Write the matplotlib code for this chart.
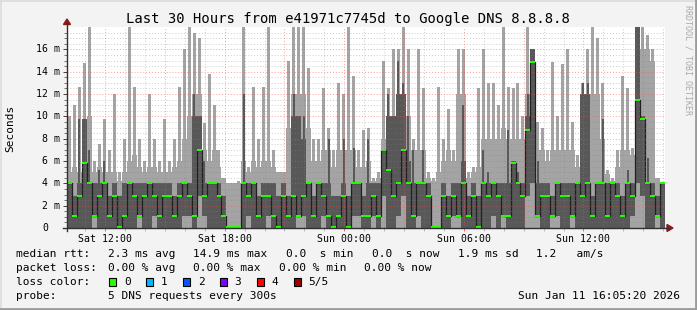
import numpy as np
import matplotlib
matplotlib.use("Agg")
import matplotlib.pyplot as plt
import matplotlib.dates as mdates
import pandas as pd
from matplotlib.patches import Rectangle, Polygon
from matplotlib.lines import Line2D
import matplotlib.transforms as mtrans

# ---------------- data (ms), 15-minute steps, Sat 10:05:20 -> Sun 16:05:20 ----------------
start_time = "2026-01-10 10:05:20"
step_minutes = 15

# highest ping within the step (short spikes)
ping_max = [10, 11, 12.6, 14.8, 18, 6, 7.5, 9.8, 7, 12,
            5, 8, 18, 12.6, 8, 6, 12, 8, 6, 9.8,
            6, 8, 12.6, 16, 18, 17.5, 17, 9.4, 13.8, 11,
            7, 4.5, 4, 4, 4.2, 18, 5.5, 12.6, 8, 12.6,
            18, 7, 5, 5, 15, 18, 18, 18, 14.3, 8,
            8, 12.5, 9, 7, 13, 12, 18, 13.6, 7, 8.8,
            9, 4.5, 5, 15, 12.5, 16, 16, 18, 16, 8,
            16, 12.5, 5, 4.5, 12.6, 8, 10.7, 7, 16, 16,
            5, 5.5, 12.5, 16, 13, 13, 11, 18, 12.6, 12.5,
            13, 10, 18, 16, 9.5, 9, 7, 14.9, 10, 14.7,
            16, 9.5, 6.5, 13, 16, 18, 17, 13, 5.2, 4.5,
            7, 13.6, 12.5, 7.2, 18, 18, 17.3, 16, 4.5, 4]

# highest ping, level held over the whole step
ping_max_base = [5, 5.5, 5, 9, 10, 5, 5.5, 5, 5, 5,
                 4.2, 5, 6, 6.5, 5.5, 5, 5.5, 5.5, 5, 5,
                 5, 5.5, 6, 8, 10, 12, 12, 7, 6, 7,
                 5.5, 4.5, 4, 4, 4, 6, 5, 6, 5.5, 6,
                 6, 5.5, 5, 5, 9, 12, 12, 12, 9, 6,
                 6, 7, 7, 5.5, 7, 7, 7, 7, 5.5, 5.5,
                 6, 4.2, 4.5, 8, 10, 10, 12, 12, 10, 7,
                 7, 7, 4.5, 4.2, 5, 6, 7, 6, 12, 12,
                 4.5, 5, 5.5, 8, 8, 8, 8, 9, 8, 8,
                 8, 8, 12, 13, 7, 7, 6, 7, 7, 7,
                 7, 7, 5.5, 10, 10, 12, 12, 8, 4.8, 4.2,
                 5.5, 7, 7, 6.5, 14, 16, 16, 15, 4.5, 4]

# 4th of 5 pings (short spikes)
ping_hi = [4, 2.9, 9.8, 9.8, 7, 4, 5.2, 6, 2.9, 4,
           2.9, 4, 4, 4, 4, 4, 4, 4, 4, 4,
           4, 2.9, 4, 4, 4, 12, 10, 6, 4, 4,
           4, 2.9, 0.1, 0.1, 0.1, 12, 4, 4, 2.9, 4,
           4, 4, 2.9, 4, 2.9, 12, 10, 10, 4, 2.9,
           4, 4, 8, 2.9, 2.9, 8, 2.9, 7.2, 4, 2.9,
           8, 4, 4, 7, 12, 10, 15, 13, 10, 7,
           4, 7, 4, 0.1, 0.1, 4, 2.9, 4, 4, 11,
           2.9, 4, 2.9, 7, 5, 4, 4, 4, 8.8, 6,
           5, 4, 12, 16, 6, 4, 4, 2.9, 4, 4,
           4, 4, 4, 13, 13, 2.9, 4, 9.8, 4, 4,
           4, 2.9, 5.2, 4, 18, 10, 6.3, 4, 2.9, 4]

# 4th of 5 pings, level held over the whole step
ping_hi_base = [4, 2.9, 4, 9.8, 4, 4, 4, 4, 2.9, 4,
                2.9, 4, 4, 4, 4, 4, 4, 4, 4, 4,
                4, 2.9, 4, 4, 4, 10, 10, 4, 4, 4,
                4, 2.9, 0.1, 0.1, 0.1, 4, 4, 4, 2.9, 4,
                4, 4, 2.9, 4, 2.9, 10, 10, 8, 4, 2.9,
                4, 4, 4, 2.9, 2.9, 4, 2.9, 4, 4, 2.9,
                4, 4, 4, 7, 10, 10, 12, 12, 6, 4,
                4, 4, 4, 0.1, 0.1, 4, 2.9, 4, 4, 6,
                2.9, 4, 2.9, 4, 4, 4, 4, 4, 4, 6,
                4, 4, 10, 16, 4, 4, 4, 2.9, 4, 4,
                4, 4, 4, 12, 12, 2.9, 4, 4, 4, 4,
                4, 2.9, 4, 4, 18, 10, 4, 4, 2.9, 4]

median_rtt = [4.0, 1.1, 2.9, 5.8, 4.0, 1.1, 2.9, 4.0, 1.1, 2.9,
              0.1, 1.1, 4.0, 2.9, 1.1, 2.9, 4.0, 2.9, 1.1, 2.9,
              2.9, 1.1, 2.9, 4.0, 2.9, 1.1, 7.0, 2.9, 4.0, 4.0,
              2.9, 1.1, 0.1, 0.1, 0.1, 4.0, 2.9, 4.0, 1.1, 2.9,
              2.9, 1.1, 0.1, 2.9, 1.1, 2.9, 1.1, 2.9, 4.0, 1.1,
              4.0, 2.9, 1.1, 0.1, 1.1, 2.9, 0.1, 4.0, 4.0, 1.1,
              1.1, 2.9, 1.1, 7.0, 5.2, 2.9, 4.0, 7.0, 4.0, 1.1,
              4.0, 4.0, 2.9, 0.1, 0.1, 2.9, 1.1, 2.9, 1.1, 4.0,
              1.1, 2.9, 0.1, 4.0, 2.9, 4.0, 2.9, 1.1, 1.1, 5.8,
              4.0, 2.9, 8.8, 14.9, 1.1, 2.9, 2.9, 1.1, 4.0, 2.9,
              2.9, 1.1, 4.0, 2.9, 4.0, 1.1, 4.0, 4.0, 1.1, 4.0,
              2.9, 1.1, 4.0, 2.9, 11.5, 9.8, 4.0, 2.9, 1.1, 4.0]

# 2nd of 5 pings
ping_lo = [0, 0, 0, 0, 0, 1.1, 0, 0, 0, 0,
           0, 0, 0, 0, 1.1, 0, 0, 1.1, 0, 0,
           0, 0, 0, 1.1, 1.1, 0, 2.9, 1.1, 0, 0,
           0, 0, 0, 0, 0, 0, 1.1, 0, 0, 0,
           1.1, 0, 0, 0, 0, 0, 1.1, 1.1, 0, 0,
           0, 1.1, 0, 0, 0, 0, 0, 1.1, 1.1, 0,
           0, 1.1, 0, 2.9, 0, 0, 1.1, 2.9, 0, 0,
           1.1, 0, 0, 0, 0, 0, 0, 1.1, 1.1, 0,
           0, 0, 0, 0, 0, 1.1, 0, 1.1, 0, 0,
           0, 0, 2.9, 4.0, 1.1, 0, 0, 1.1, 1.1, 0,
           0, 1.1, 0, 0, 0, 0, 0, 0, 0, 0,
           0, 0, 0, 1.1, 4.0, 2.9, 0, 0, 1.1, 0]

ping_min = 0.0

title = "Last 30 Hours from e41971c7745d to Google DNS 8.8.8.8"
y_ticks = [0, 2, 4, 6, 8, 10, 12, 14, 16]
x_tick_times = ["2026-01-10 12:00", "2026-01-10 18:00", "2026-01-11 00:00",
                "2026-01-11 06:00", "2026-01-11 12:00"]
x_tick_labels = ["Sat 12:00", "Sat 18:00", "Sun 00:00", "Sun 06:00", "Sun 12:00"]

legend_rtt = [("median rtt:", 16), ("2.3 ms avg", 108), ("14.9 ms max", 193),
              ("0.0  s min", 286.5), ("0.0  s now", 372), ("1.9 ms sd", 458),
              ("1.2   am/s", 535.5)]
legend_loss = [("packet loss:", 16), ("0.00 % avg", 108), ("0.00 % max", 193),
               ("0.00 % min", 279), ("0.00 % now", 364)]
loss_labels = ["0", "1", "2", "3", "4", "5/5"]
loss_colors = ["#26ff00", "#00b8ff", "#0059ff", "#7e00ff", "#ff0000", "#a00000"]
probe_text = "5 DNS requests every 300s"
stamp_text = "Sun Jan 11 16:05:20 2026"

# ---------------- figure ----------------
W, H = 697, 310
FONT = "DejaVu Sans Mono"
plt.rcParams["font.family"] = FONT
fig = plt.figure(figsize=(W / 100, H / 100), dpi=100)
fig.patch.set_facecolor("#f3f3f3")

def fx(x):
    return x / W

def fy(y):
    return 1 - y / H

L, R, T, B = 67, 665, 27, 228
ax = fig.add_axes([fx(L), fy(B), (R - L) / W, (B - T) / H])
ax.set_facecolor("white")
for s in ax.spines.values():
    s.set_visible(False)

n = len(median_rtt)
edges = pd.date_range(start=start_time, periods=n + 1, freq=f"{step_minutes}min")
xe = mdates.date2num(edges.to_pydatetime())
xc = (xe[:-1] + xe[1:]) / 2
step_w = xe[1] - xe[0]

def ext(a):
    a = np.asarray(a, dtype=float)
    return np.append(a, a[-1])

LIGHT, DARK = "#a4a4a4", "#585858"
ax.fill_between(xe, ping_min, ext(ping_max_base), step="post", color=LIGHT, lw=0, zorder=2)
ax.bar(xc, ping_max, width=step_w * 0.6, bottom=ping_min, color=LIGHT, lw=0, zorder=2)
lo = np.asarray(ping_lo, dtype=float)
ax.fill_between(xe, ext(lo), ext(ping_hi_base), step="post", color=DARK, lw=0, zorder=3)
ax.bar(xc, np.asarray(ping_hi) - lo, width=step_w * 0.4, bottom=lo, color=DARK, lw=0, zorder=3)
med = ext(median_rtt)
ax.step(xe, med, where="post", color="#202020", lw=0.9, zorder=4)
ax.fill_between(xe, med - 0.09, med + 0.09, step="post", color=loss_colors[0], lw=0, zorder=5)

ax.set_xlim(xe[0], xe[-1])
ax.set_ylim(0, 18)

# grid (drawn over data like rrdtool)
t0 = pd.Timestamp(start_time).ceil("h")
hours = pd.date_range(t0, edges[-1], freq="1h")
MAJ = (1, 0.3, 0.3, 0.55)
MIN = (0.5, 0.5, 0.5, 0.4)
for h in hours:
    xv = mdates.date2num(h.to_pydatetime())
    ax.axvline(xv, color=MAJ if h.hour % 3 == 0 else MIN, lw=0.7, ls=(0, (1, 2)), zorder=6)
for v in np.arange(0.5, 18.0, 0.5):
    ax.axhline(v, color=MAJ if abs(v % 2) < 1e-9 else MIN, lw=0.7, ls=(0, (1, 2)), zorder=6)

# ticks
ax.set_yticks(y_ticks)
ax.set_yticks(np.arange(0, 18, 0.5), minor=True)
ax.set_yticklabels([])
ax.tick_params(axis="y", which="major", length=3, width=0.7, color="#404040", direction="out")
ax.tick_params(axis="y", which="minor", length=2, width=0.6, color="#606060", direction="out")
xt = [mdates.date2num(pd.Timestamp(t).to_pydatetime()) for t in x_tick_times]
ax.set_xticks(xt)
ax.set_xticklabels(x_tick_labels, fontsize=7.1, family=FONT)
ax.set_xticks([mdates.date2num(h.to_pydatetime()) for h in hours], minor=True)
ax.tick_params(axis="x", which="major", length=2, width=0.7, color="#ff6060", pad=2.5)
ax.tick_params(axis="x", which="minor", length=2, width=0.6, color="#b0b0b0")

yoff = mtrans.offset_copy(ax.get_yaxis_transform(), fig=fig, x=-7, y=0, units="dots")
yoff0 = mtrans.offset_copy(ax.get_yaxis_transform(), fig=fig, x=-19, y=0, units="dots")
for v in y_ticks:
    if v == 0:
        ax.text(0, v, "0", transform=yoff0, ha="right", va="center", fontsize=7.1, clip_on=False)
    else:
        ax.text(0, v, f"{v} m", transform=yoff, ha="right", va="center", fontsize=7.1, clip_on=False)

# axis lines and arrows
fig.add_artist(Line2D([fx(L), fx(L)], [fy(B + 3), fy(23)], color="#303030", lw=1))
fig.add_artist(Line2D([fx(L - 4), fx(R + 4)], [fy(B), fy(B)], color="#303030", lw=1))
arrow_c = "#8b1c1c"
fig.add_artist(Polygon([[fx(L - 3.5), fy(24.5)], [fx(L + 3.5), fy(24.5)], [fx(L), fy(19)]],
                       closed=True, color=arrow_c, transform=fig.transFigure))
fig.add_artist(Polygon([[fx(R + 2), fy(B - 3.5)], [fx(R + 2), fy(B + 3.5)], [fx(R + 8), fy(B)]],
                       closed=True, color=arrow_c, transform=fig.transFigure))

# texts
fig.text(fx(348), fy(19), title, ha="center", va="center", fontsize=10)
fig.text(fx(10), fy(128), "Seconds", rotation=90, ha="center", va="center", fontsize=8)
fig.text(fx(688), fy(5), "RRDTOOL / TOBI OETIKER", rotation=-90, ha="center", va="top",
         fontsize=6, color="#aaaaaa")

rows = [254.3, 268.3, 282.0, 296.3]
for txt, x in legend_rtt:
    fig.text(fx(x), fy(rows[0]), txt, ha="left", va="center", fontsize=8)
for txt, x in legend_loss:
    fig.text(fx(x), fy(rows[1]), txt, ha="left", va="center", fontsize=8)
fig.text(fx(16), fy(rows[2]), "loss color:", ha="left", va="center", fontsize=8)
for i, (lab, col) in enumerate(zip(loss_labels, loss_colors)):
    bx = 109 + i * 36.9
    fig.add_artist(Rectangle((fx(bx), fy(286)), 7 / W, 8 / H, facecolor=col, edgecolor="black",
                             lw=0.8, transform=fig.transFigure))
    fig.text(fx(bx + 15), fy(rows[2]), lab, ha="left", va="center", fontsize=8)
fig.text(fx(16), fy(rows[3]), "probe:", ha="left", va="center", fontsize=8)
fig.text(fx(108), fy(rows[3]), probe_text, ha="left", va="center", fontsize=8)
fig.text(fx(680), fy(rows[3]), stamp_text, ha="right", va="center", fontsize=8)

# canvas shading border
fig.add_artist(Line2D([0, 1], [fy(0.5), fy(0.5)], color="#dcdcdc", lw=1.2))
fig.add_artist(Line2D([fx(0.5), fx(0.5)], [0, 1], color="#dcdcdc", lw=1.2))
fig.add_artist(Line2D([0, 1], [fy(H - 1), fy(H - 1)], color="#9b9b9b", lw=2))
fig.add_artist(Line2D([fx(W - 1), fx(W - 1)], [0, 1], color="#9b9b9b", lw=2))

fig.savefig("out.png", dpi=100, facecolor=fig.get_facecolor())
